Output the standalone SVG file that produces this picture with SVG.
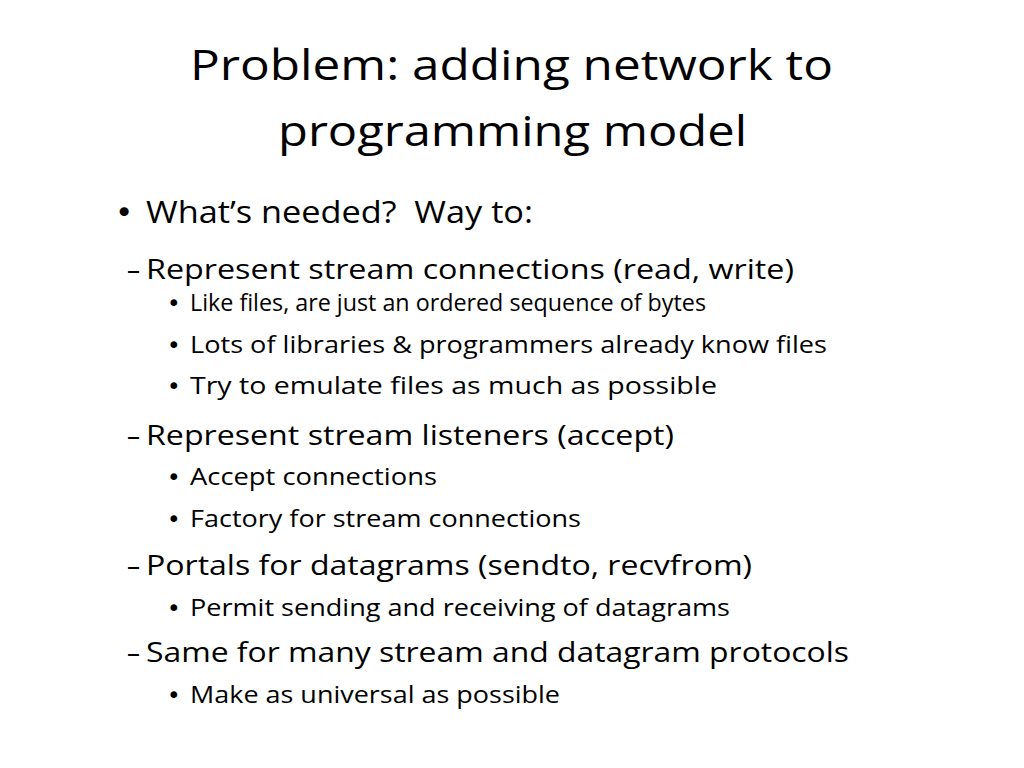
<svg xmlns="http://www.w3.org/2000/svg" width="1024" height="768" viewBox="0 0 1024 768">
<style>
text{font-family:"Open Sans","Noto Sans",sans-serif;fill:#000}
.t{font-size:42px}
.l1{font-size:31px}
.l2{font-size:27px}
.l3{font-size:23px}
.b{font-family:"DejaVu Sans",sans-serif}
</style>
<rect width="1024" height="768" fill="#fff"/>
<g id="title">
<text class="t" x="190" y="80" textLength="643" lengthAdjust="spacingAndGlyphs">Problem: adding network to</text>
<text class="t" x="278" y="146" textLength="469" lengthAdjust="spacingAndGlyphs">programming model</text>
</g>
<g id="body">
<text class="l1 b" x="115" y="223">•</text>
<text class="l1" x="146" y="223" textLength="387" lengthAdjust="spacingAndGlyphs" xml:space="preserve">What’s needed?  Way to:</text>
<text class="l2" x="127" y="279" textLength="13" lengthAdjust="spacingAndGlyphs">–</text>
<text class="l2" x="146" y="279" textLength="648" lengthAdjust="spacingAndGlyphs">Represent stream connections (read, write)</text>
<text class="l3 b" x="167" y="311">•</text>
<text class="l3" x="190" y="311" textLength="516" lengthAdjust="spacingAndGlyphs">Like files, are just an ordered sequence of bytes</text>
<text class="l3 b" x="167" y="353">•</text>
<text class="l3" x="190" y="353" textLength="637" lengthAdjust="spacingAndGlyphs">Lots of libraries &amp; programmers already know files</text>
<text class="l3 b" x="167" y="394">•</text>
<text class="l3" x="190" y="394" textLength="527" lengthAdjust="spacingAndGlyphs">Try to emulate files as much as possible</text>
<text class="l2" x="127" y="445" textLength="13" lengthAdjust="spacingAndGlyphs">–</text>
<text class="l2" x="146" y="445" textLength="528" lengthAdjust="spacingAndGlyphs">Represent stream listeners (accept)</text>
<text class="l3 b" x="167" y="485">•</text>
<text class="l3" x="190" y="485" textLength="247" lengthAdjust="spacingAndGlyphs">Accept connections</text>
<text class="l3 b" x="167" y="527">•</text>
<text class="l3" x="190" y="527" textLength="391" lengthAdjust="spacingAndGlyphs">Factory for stream connections</text>
<text class="l2" x="127" y="575" textLength="13" lengthAdjust="spacingAndGlyphs">–</text>
<text class="l2" x="146" y="575" textLength="606" lengthAdjust="spacingAndGlyphs">Portals for datagrams (sendto, recvfrom)</text>
<text class="l3 b" x="167" y="616">•</text>
<text class="l3" x="190" y="616" textLength="540" lengthAdjust="spacingAndGlyphs">Permit sending and receiving of datagrams</text>
<text class="l2" x="127" y="662" textLength="13" lengthAdjust="spacingAndGlyphs">–</text>
<text class="l2" x="146" y="662" textLength="703" lengthAdjust="spacingAndGlyphs">Same for many stream and datagram protocols</text>
<text class="l3 b" x="167" y="703">•</text>
<text class="l3" x="190" y="703" textLength="370" lengthAdjust="spacingAndGlyphs">Make as universal as possible</text>
</g>
</svg>
